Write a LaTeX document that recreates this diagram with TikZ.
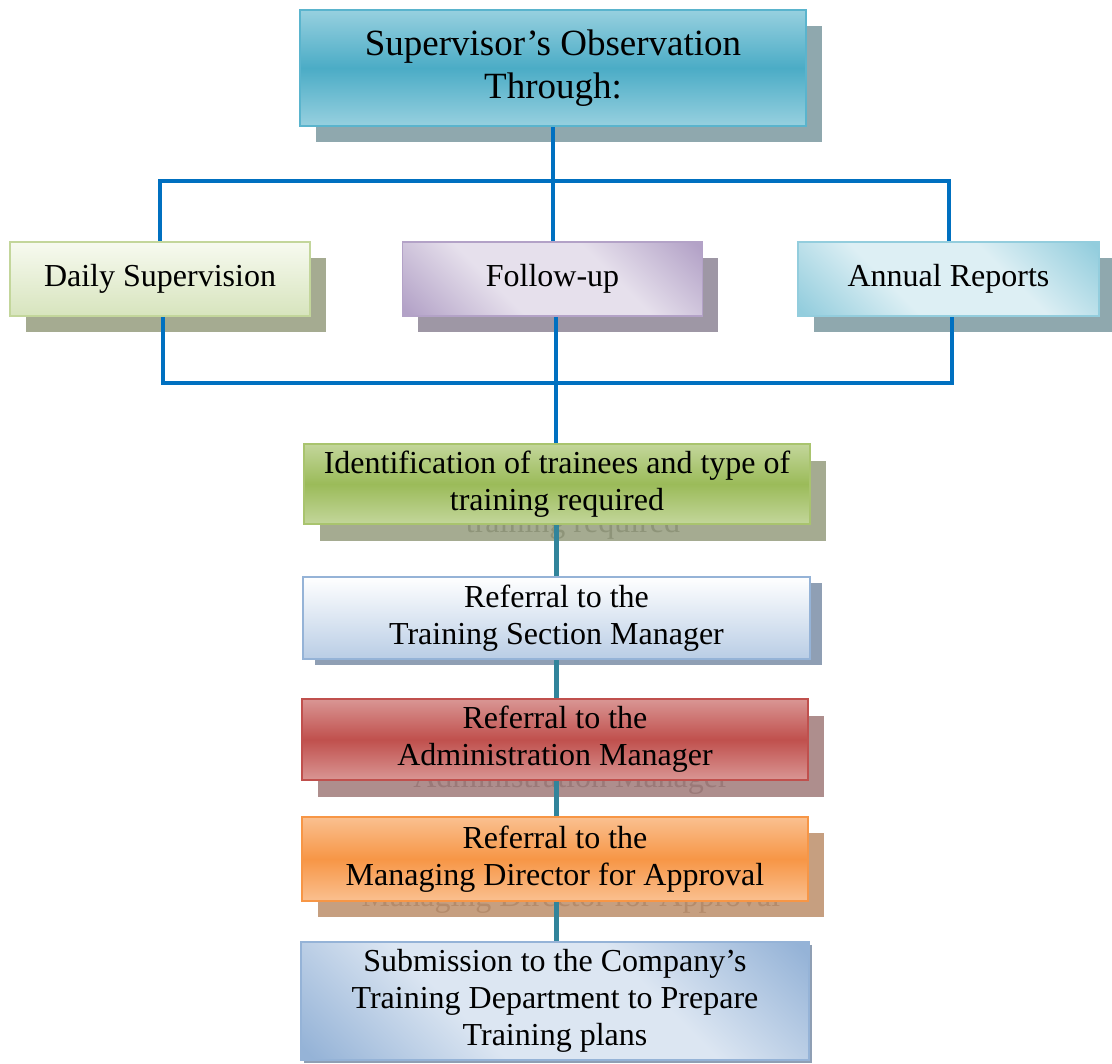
\documentclass[tikz,border=0pt]{standalone}
\usepackage{fontspec}
\setmainfont{Liberation Serif}
\usetikzlibrary{calc}

% box fills and borders
\definecolor{aquaL}{HTML}{97D0DF}
\definecolor{aquaD}{HTML}{4BACC6}
\definecolor{aquaB}{HTML}{5AB4CD}
\definecolor{oliveL}{HTML}{F7FAF0}
\definecolor{oliveM}{HTML}{D7E4BD}
\definecolor{oliveB}{HTML}{C3D69B}
\definecolor{lilacD}{HTML}{B3A2C7}
\definecolor{lilacL}{HTML}{E6E0EC}
\definecolor{skyD}{HTML}{93CDDD}
\definecolor{skyL}{HTML}{DDEFF4}
\definecolor{grassL}{HTML}{C3D69B}
\definecolor{grassD}{HTML}{9BBB59}
\definecolor{grassB}{HTML}{A9C46E}
\definecolor{steelL}{HTML}{B9CDE5}
\definecolor{steelB}{HTML}{95B3D7}
\definecolor{roseL}{HTML}{D99694}
\definecolor{roseD}{HTML}{C0504D}
\definecolor{tanL}{HTML}{FAC090}
\definecolor{tanD}{HTML}{F79646}
\definecolor{paleL}{HTML}{DCE6F2}
% shadows and the text that shows through them
\definecolor{shAqua}{HTML}{8FA8AE}
\definecolor{shOlive}{HTML}{A5AB91}
\definecolor{shLilac}{HTML}{9E97A5}
\definecolor{shSteel}{HTML}{8F9FB4}
\definecolor{shRose}{HTML}{AE8E8D}
\definecolor{shTan}{HTML}{C69F80}
\definecolor{ghOlive}{HTML}{8E9479}
\definecolor{ghRose}{HTML}{9A7978}
\definecolor{ghTan}{HTML}{B48B6B}
% connectors
\definecolor{linkblue}{HTML}{0070C0}
\definecolor{linkteal}{HTML}{31849B}

% diagonal bands: dark corners, broad light centre
\pgfdeclareverticalshading{lilacband}{100bp}{color(0bp)=(lilacD); color(16bp)=(lilacD);
  color(38bp)=(lilacL); color(62bp)=(lilacL); color(84bp)=(lilacD); color(100bp)=(lilacD)}
\pgfdeclareverticalshading{skyband}{100bp}{color(0bp)=(skyD); color(16bp)=(skyD);
  color(38bp)=(skyL); color(62bp)=(skyL); color(84bp)=(skyD); color(100bp)=(skyD)}
\pgfdeclareverticalshading{steelband}{100bp}{color(0bp)=(steelB); color(16bp)=(steelB);
  color(38bp)=(paleL); color(62bp)=(paleL); color(84bp)=(steelB); color(100bp)=(steelB)}

\pgfdeclarelayer{shadowlayer}
\pgfdeclarelayer{linklayer}
\pgfsetlayers{shadowlayer,linklayer,main}

\tikzset{
  card/.style={draw, line width=1.8pt, inner sep=0pt, align=center, text=black,
               font=\fontsize{32}{37}\selectfont},
  shadowbox/.style={inner sep=0pt},
  ghost/.style={inner sep=0pt, align=center, font=\fontsize{32}{37}\selectfont},
  vband/.style 2 args={top color=#1, bottom color=#1, middle color=#2},
  dband/.style={shading=#1, shading angle=-45},
  bluelink/.style={line width=4pt, draw=linkblue},
  teallink/.style={line width=5pt, draw=linkteal},
}

\begin{document}
\begin{tikzpicture}[x=1pt,y=-1pt]
\useasboundingbox (0,0) rectangle (1112,1064);

% drop shadows, with the lower text lines showing through
\begin{pgfonlayer}{shadowlayer}
  \node[shadowbox, fill=shAqua, minimum width=506pt, minimum height=116pt] (topS) at (569,84) {};
  \node[shadowbox, fill=shOlive, minimum width=300pt, minimum height=74pt] (dailyS) at (176,295) {};
  \node[shadowbox, fill=shLilac, minimum width=300pt, minimum height=74pt] (followS) at (568,295) {};
  \node[shadowbox, fill=shAqua, minimum width=301pt, minimum height=74pt] (annualS) at (964.5,295) {};
  \node[shadowbox, fill=shOlive, minimum width=506pt, minimum height=80pt] (identS) at (573,501) {};
  \node[ghost, text=ghOlive] (identG) at (573,506)
    {Identification of trainees and type of\\training required};
  \node[shadowbox, fill=shSteel, minimum width=507pt, minimum height=82pt] (trainS) at (568.5,624) {};
  \node[shadowbox, fill=shRose, minimum width=506pt, minimum height=81pt] (adminS) at (571,756.5) {};
  \node[ghost, text=ghRose] (adminG) at (571,761)
    {Referral to the\\Administration Manager};
  \node[shadowbox, fill=shTan, minimum width=506pt, minimum height=84pt] (directS) at (571,875) {};
  \node[ghost, text=ghTan] (directG) at (571,880)
    {Referral to the\\Managing Director for Approval};
  \node[shadowbox, fill=shSteel, minimum width=508pt, minimum height=118pt] (submitS) at (558,1004) {};
\end{pgfonlayer}

% boxes
\node[card, vband={aquaL}{aquaD}, draw=aquaB, minimum width=506pt, minimum height=116pt,
      font=\fontsize{37}{43}\selectfont] (top) at (553,68)
  {Supervisor’s Observation\\Through:};
\node[card, top color=oliveL, bottom color=oliveM, draw=oliveB, minimum width=300pt, minimum height=74pt]
  (daily) at (160,279) {Daily Supervision};
\node[card, dband=lilacband, draw=lilacD, minimum width=300pt, minimum height=74pt]
  (follow) at (552.5,279) {Follow-up};
\node[card, dband=skyband, draw=skyD, minimum width=301pt, minimum height=74pt]
  (annual) at (948.5,279) {Annual Reports};
\node[card, vband={grassL}{grassD}, draw=grassB, minimum width=506pt, minimum height=80pt]
  (ident) at (557,484) {Identification of trainees and type of\\training required};
\node[card, top color=white, bottom color=steelL, draw=steelB, minimum width=507pt, minimum height=82pt]
  (train) at (556.5,618) {Referral to the\\Training Section Manager};
\node[card, vband={roseL}{roseD}, draw=roseD, minimum width=506pt, minimum height=81pt]
  (admin) at (555,739.5) {Referral to the\\Administration Manager};
\node[card, vband={tanL}{tanD}, draw=tanD, minimum width=506pt, minimum height=84pt]
  (direct) at (555,859) {Referral to the\\Managing Director for Approval};
\node[card, dband=steelband, draw=steelB, minimum width=508pt, minimum height=118pt]
  (submit) at (555,1001) {Submission to the Company’s\\Training Department to Prepare\\Training plans};

% connectors
\coordinate (busA) at (553,181);
\coordinate (busB) at (556,383);
\coordinate (dailyOut) at ($(daily.south)+(3,0)$);
\coordinate (followOut) at ($(follow.south)+(3,0)$);
\coordinate (annualOut) at ($(annual.south)+(3,0)$);
\begin{pgfonlayer}{linklayer}
  \draw[bluelink] (top.south) -- (top.south |- follow.north);
  \draw[bluelink] (daily.north) -- (daily.north |- busA) -- (annual.north |- busA) -- (annual.north);
  \draw[bluelink] (dailyOut) |- (busB) -| (annualOut);
  \draw[bluelink] (followOut) -- (followOut |- ident.north);
  \draw[teallink] (ident.south -| busB) -- (train.north -| busB);
  \draw[teallink] (train.south -| busB) -- (admin.north -| busB);
  \draw[teallink] (admin.south -| busB) -- (direct.north -| busB);
  \draw[teallink] (direct.south -| busB) -- (submit.north -| busB);
\end{pgfonlayer}
\end{tikzpicture}
\end{document}
